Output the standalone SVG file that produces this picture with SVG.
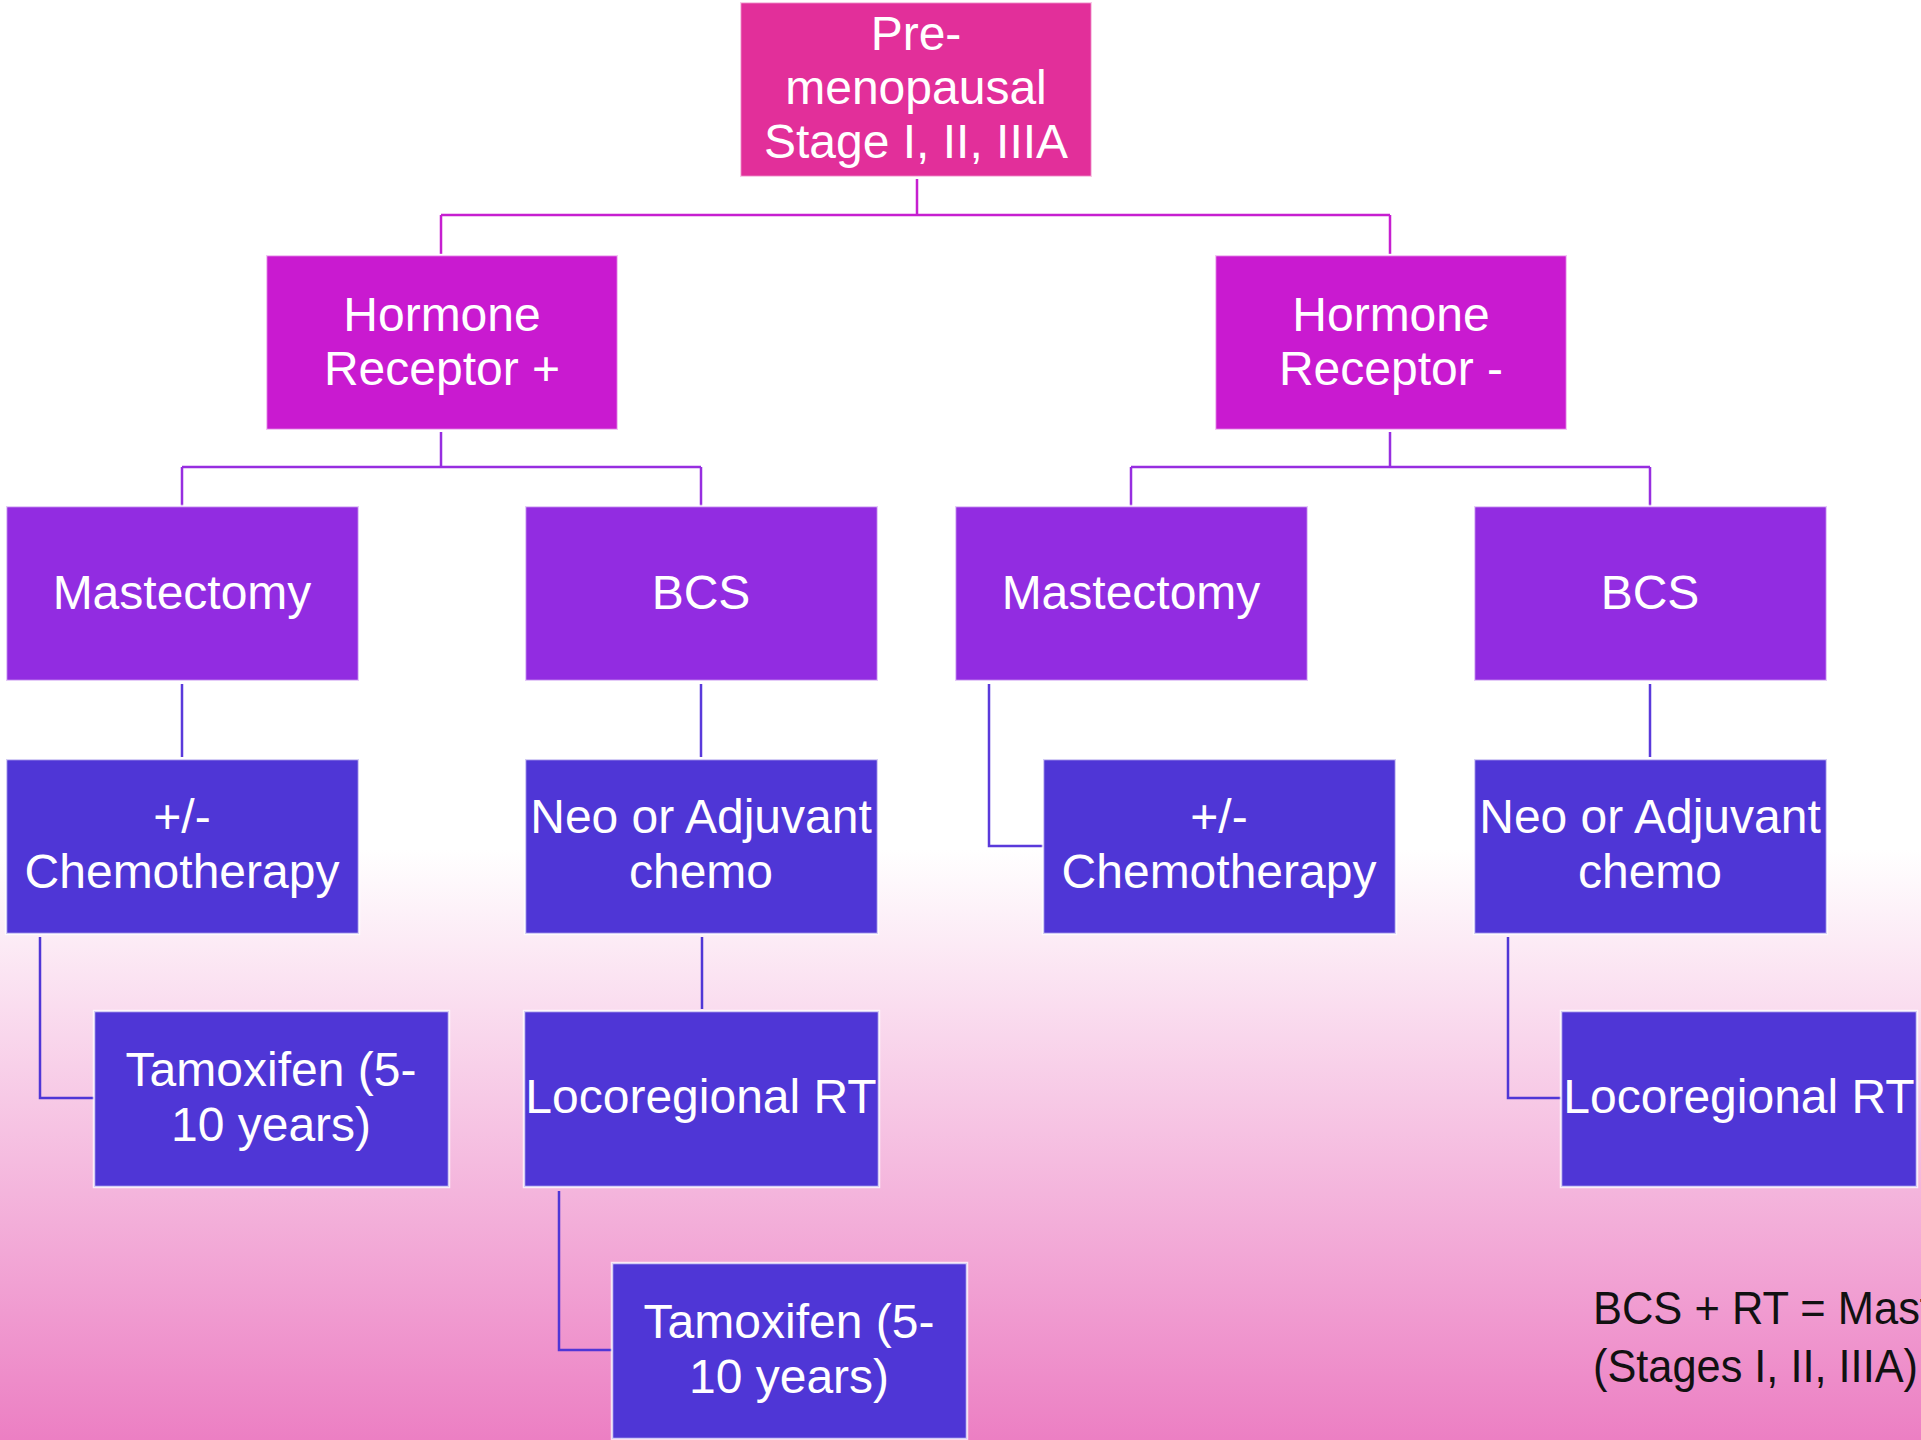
<svg xmlns="http://www.w3.org/2000/svg" width="1921" height="1440" viewBox="0 0 1921 1440">
  <defs>
    <linearGradient id="bg" x1="0" y1="0" x2="0" y2="1">
      <stop offset="0" stop-color="#ffffff"/>
      <stop offset="0.59" stop-color="#ffffff"/>
      <stop offset="1" stop-color="#ec7fc3"/>
    </linearGradient>
    <style>
      .box { stroke: #ffffff; stroke-opacity: 0.75; stroke-width: 2.5; }
      .root { fill: #e22f9a; }
      .l2 { fill: #c91ad0; }
      .l3 { fill: #922ce1; }
      .l4 { fill: #4f36d6; }
      .lbl { font-family: "Liberation Sans", Arial, sans-serif; font-size: 48px; fill: #ffffff; text-anchor: middle; }
      .note { font-family: "Liberation Sans", Arial, sans-serif; font-size: 47px; fill: #111111; }
      .c1 { stroke: #c61fd0; }
      .c2 { stroke: #972ee0; }
      .c3 { stroke: #5a3adb; }
      .c4 { stroke: #4f36d6; }
      #connectors path { fill: none; stroke-width: 2.5; }
    </style>
  </defs>

  <rect x="0" y="0" width="1921" height="1440" fill="url(#bg)"/>

  <!-- connectors -->
  <g id="connectors">
    <path class="c1" d="M917 179 V215 M441 215 H1390 M441 215 V254 M1390 215 V254"/>
    <path class="c2" d="M441 432 V467 M182 467 H701 M182 467 V506 M701 467 V506"/>
    <path class="c2" d="M1390 432 V467 M1131 467 H1650 M1131 467 V506 M1650 467 V506"/>
    <path class="c3" d="M182 684 V757 M701 684 V757 M1650 684 V757 M989 684 V846 H1043"/>
    <path class="c4" d="M40 937 V1098 H94 M702 937 V1009 M1508 937 V1098 H1561 M559 1191 V1350 H612"/>
  </g>

  <!-- level 1 -->
  <g id="node-root">
    <rect class="box root" x="740" y="2" width="352" height="175"/>
    <text class="lbl" x="916" y="50">Pre-</text>
    <text class="lbl" x="916" y="104">menopausal</text>
    <text class="lbl" x="916" y="158">Stage I, II, IIIA</text>
  </g>

  <!-- level 2 -->
  <g id="node-hr-pos">
    <rect class="box l2" x="266" y="255" width="352" height="175"/>
    <text class="lbl" x="442" y="331">Hormone</text>
    <text class="lbl" x="442" y="385">Receptor +</text>
  </g>
  <g id="node-hr-neg">
    <rect class="box l2" x="1215" y="255" width="352" height="175"/>
    <text class="lbl" x="1391" y="331">Hormone</text>
    <text class="lbl" x="1391" y="385">Receptor -</text>
  </g>

  <!-- level 3 -->
  <g id="node-mast-pos">
    <rect class="box l3" x="6" y="506" width="353" height="175"/>
    <text class="lbl" x="182" y="609">Mastectomy</text>
  </g>
  <g id="node-bcs-pos">
    <rect class="box l3" x="525" y="506" width="353" height="175"/>
    <text class="lbl" x="701" y="609">BCS</text>
  </g>
  <g id="node-mast-neg">
    <rect class="box l3" x="955" y="506" width="353" height="175"/>
    <text class="lbl" x="1131" y="609">Mastectomy</text>
  </g>
  <g id="node-bcs-neg">
    <rect class="box l3" x="1474" y="506" width="353" height="175"/>
    <text class="lbl" x="1650" y="609">BCS</text>
  </g>

  <!-- level 4 -->
  <g id="node-chemo-pos">
    <rect class="box l4" x="6" y="759" width="353" height="175"/>
    <text class="lbl" x="182" y="833">+/-</text>
    <text class="lbl" x="182" y="888">Chemotherapy</text>
  </g>
  <g id="node-neo-pos">
    <rect class="box l4" x="525" y="759" width="353" height="175"/>
    <text class="lbl" x="701" y="833">Neo or Adjuvant</text>
    <text class="lbl" x="701" y="888">chemo</text>
  </g>
  <g id="node-chemo-neg">
    <rect class="box l4" x="1043" y="759" width="353" height="175"/>
    <text class="lbl" x="1219" y="833">+/-</text>
    <text class="lbl" x="1219" y="888">Chemotherapy</text>
  </g>
  <g id="node-neo-neg">
    <rect class="box l4" x="1474" y="759" width="353" height="175"/>
    <text class="lbl" x="1650" y="833">Neo or Adjuvant</text>
    <text class="lbl" x="1650" y="888">chemo</text>
  </g>

  <!-- level 5 -->
  <g id="node-tam-1">
    <rect class="box l4" x="94" y="1011" width="355" height="176"/>
    <text class="lbl" x="271" y="1086">Tamoxifen (5-</text>
    <text class="lbl" x="271" y="1141">10 years)</text>
  </g>
  <g id="node-rt-pos">
    <rect class="box l4" x="524" y="1011" width="355" height="176"/>
    <text class="lbl" x="701" y="1113">Locoregional RT</text>
  </g>
  <g id="node-rt-neg">
    <rect class="box l4" x="1561" y="1011" width="356" height="176"/>
    <text class="lbl" x="1739" y="1113">Locoregional RT</text>
  </g>

  <!-- level 6 -->
  <g id="node-tam-2">
    <rect class="box l4" x="612" y="1263" width="355" height="176"/>
    <text class="lbl" x="789" y="1338">Tamoxifen (5-</text>
    <text class="lbl" x="789" y="1393">10 years)</text>
  </g>

  <!-- footnote, runs past the right edge of the page -->
  <g id="note">
    <text class="note" x="1593" y="1324" textLength="479" lengthAdjust="spacingAndGlyphs">BCS + RT = Mastectomy</text>
    <text class="note" x="1593" y="1382" textLength="325" lengthAdjust="spacingAndGlyphs">(Stages I, II, IIIA)</text>
  </g>
</svg>
